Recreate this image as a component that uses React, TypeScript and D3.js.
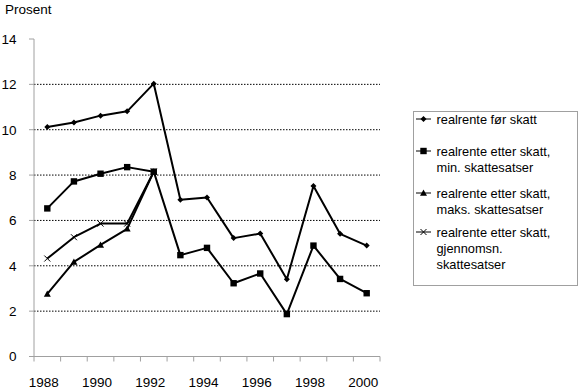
import React from "react";
import * as d3 from "d3";

const years = [1988, 1989, 1990, 1991, 1992, 1993, 1994, 1995, 1996, 1997, 1998, 1999, 2000];
const yearLabels = [1988, 1990, 1992, 1994, 1996, 1998, 2000];
const yTicks = [0, 2, 4, 6, 8, 10, 12, 14];
const gridTicks = [2, 4, 6, 8, 10, 12];

const forSkatt = [10.12, 10.32, 10.62, 10.81, 12.03, 6.91, 7.01, 5.22, 5.42, 3.41, 7.52, 5.41, 4.89];
const minSkatt = [6.53, 7.72, 8.06, 8.35, 8.15, 4.47, 4.79, 3.23, 3.66, 1.87, 4.89, 3.42, 2.79];
const maksSkatt: (number | null)[] = [2.76, 4.17, 4.92, 5.63, 8.15, null, null, null, null, null, null, null, null];
const snittSkatt: (number | null)[] = [4.32, 5.26, 5.86, 5.86, 8.15, null, null, null, null, null, null, null, null];

const legendLabels = [
  ["realrente før skatt"],
  ["realrente etter skatt,", "min. skattesatser"],
  ["realrente etter skatt,", "maks. skattesatser"],
  ["realrente etter skatt,", "gjennomsn.", "skattesatser"],
];

type MarkerKind = "diamond" | "square" | "triangle" | "cross";

const series: { values: (number | null)[]; marker: MarkerKind }[] = [
  { values: forSkatt, marker: "diamond" },
  { values: minSkatt, marker: "square" },
  { values: maksSkatt, marker: "triangle" },
  { values: snittSkatt, marker: "cross" },
];

function Marker({ kind, x, y }: { kind: MarkerKind; x: number; y: number }) {
  if (kind === "diamond") {
    const s = 3;
    return <path d={`M${x},${y - s}L${x + s},${y}L${x},${y + s}L${x - s},${y}Z`} fill="#000" />;
  }
  if (kind === "square") {
    const s = 3.2;
    return <rect x={x - s} y={y - s} width={2 * s} height={2 * s} fill="#000" />;
  }
  if (kind === "triangle") {
    const s = 3.5;
    return <path d={`M${x},${y - s}L${x + s},${y + s * 0.8}L${x - s},${y + s * 0.8}Z`} fill="#000" />;
  }
  const s = 3;
  return (
    <path d={`M${x - s},${y - s}L${x + s},${y + s}M${x - s},${y + s}L${x + s},${y - s}`} stroke="#000" strokeWidth={1} fill="none" />
  );
}

export default function App() {
  const W = 580;
  const H = 390;
  const left = 34;
  const right = 380;
  const top = 39;
  const bottom = 356.5;
  const font = "Helvetica, 'Liberation Sans', Arial, sans-serif";

  const x = d3.scaleBand<number>().domain(years).range([left, right]).padding(0);
  const cx = (yr: number) => (x(yr) as number) + x.bandwidth() / 2;
  const y = d3.scaleLinear().domain([0, 14]).range([bottom, top]);

  const line = d3
    .line<number | null>()
    .defined((d) => d !== null)
    .x((_, i) => cx(years[i]))
    .y((d) => y(d as number));

  const axisColor = "#a0a0a0";

  const legendX = 413.5;
  const legendTop = 111.5;
  const legendW = 164;
  const legendH = 174;
  const entryY = [119, 151, 193, 232];
  const lh = 16;

  return (
    <svg width={W} height={H} style={{ position: "absolute", left: 0, top: 0 }} fontFamily={font}>
      <rect x={0} y={0} width={W} height={H} fill="#fff" />
      <text x={5} y={14} fontSize={13.5}>Prosent</text>

      {gridTicks.map((t) => (
        <line key={t} x1={left} x2={right} y1={y(t)} y2={y(t)} stroke="#000" strokeWidth={1} strokeDasharray="1.5,1.5" />
      ))}

      {yTicks.map((t) => (
        <g key={t}>
          <line x1={left - 5} x2={left} y1={y(t)} y2={y(t)} stroke={axisColor} />
          <text x={16.5} y={y(t) + 4.8} fontSize={13.5} textAnchor="end">{t}</text>
        </g>
      ))}
      <line x1={left} x2={left} y1={top} y2={bottom} stroke={axisColor} />
      <line x1={left - 5} x2={right} y1={bottom} y2={bottom} stroke={axisColor} />
      {[...years.map((yr) => x(yr) as number), right].map((px, i) => (
        <line key={i} x1={px} x2={px} y1={bottom} y2={bottom + 5} stroke={axisColor} />
      ))}
      {yearLabels.map((yr) => (
        <text key={yr} x={cx(yr) - 3.5} y={386.5} fontSize={13.5} textAnchor="middle">{yr}</text>
      ))}

      {series.map((s, si) => (
        <g key={si}>
          <path d={line(s.values) || ""} fill="none" stroke="#000" strokeWidth={2} strokeLinejoin="round" />
          {s.values.map((v, i) =>
            v === null ? null : <Marker key={i} kind={s.marker} x={cx(years[i])} y={y(v)} />
          )}
        </g>
      ))}

      <rect x={legendX} y={legendTop} width={legendW} height={legendH} fill="#fff" stroke={axisColor} />
      {legendLabels.map((lines, i) => (
        <g key={i}>
          <line x1={416} x2={431} y1={entryY[i]} y2={entryY[i]} stroke="#000" strokeWidth={1} />
          <Marker kind={series[i].marker} x={423.5} y={entryY[i]} />
          {lines.map((ln, j) => (
            <text key={j} x={436.5} y={entryY[i] + 4.6 + j * lh} fontSize={12.8}>{ln}</text>
          ))}
        </g>
      ))}
    </svg>
  );
}
